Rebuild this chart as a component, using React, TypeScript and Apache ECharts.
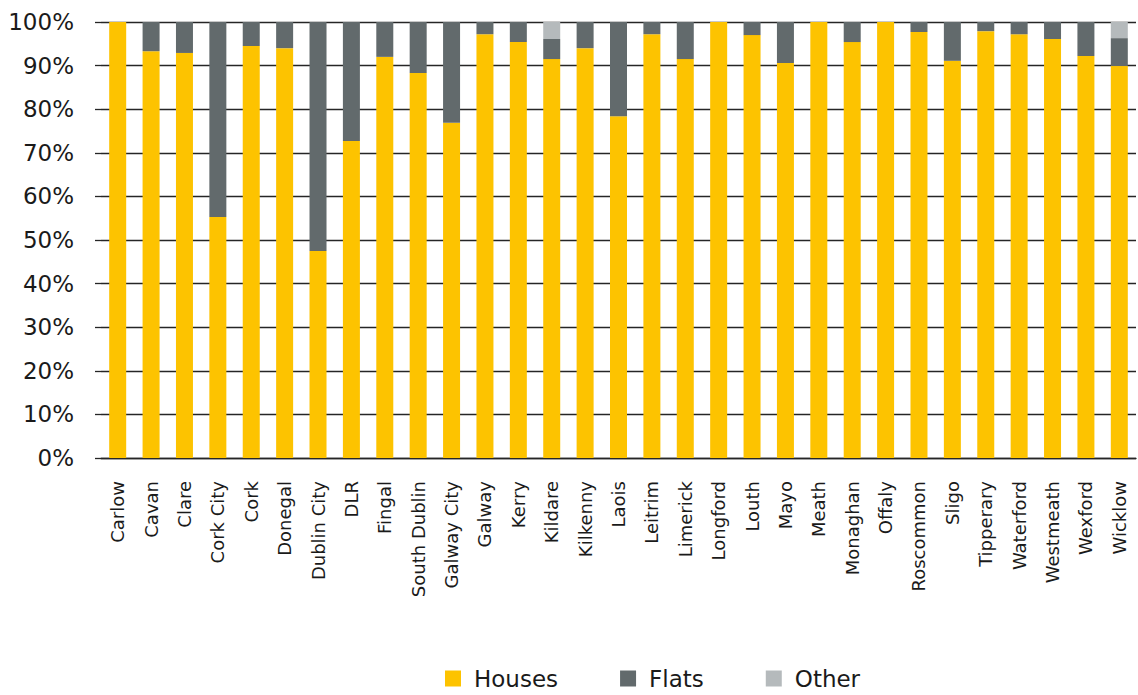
import React, { useEffect, useRef } from "react";
import * as echarts from "echarts";

const categories = [
  "Carlow", "Cavan", "Clare", "Cork City", "Cork", "Donegal", "Dublin City", "DLR", "Fingal",
  "South Dublin", "Galway City", "Galway", "Kerry", "Kildare", "Kilkenny", "Laois", "Leitrim",
  "Limerick", "Longford", "Louth", "Mayo", "Meath", "Monaghan", "Offaly", "Roscommon", "Sligo",
  "Tipperary", "Waterford", "Westmeath", "Wexford", "Wicklow",
];

const houses = [
  100, 93.3, 92.9, 55.3, 94.5, 94.0, 47.5, 72.7, 92.0,
  88.3, 76.9, 97.2, 95.4, 91.5, 94.0, 78.4, 97.2,
  91.5, 100, 97.0, 90.6, 100, 95.4, 100, 97.7, 91.1,
  97.9, 97.2, 96.1, 92.2, 89.9,
];

const flats = [
  0, 6.7, 7.1, 44.7, 5.5, 6.0, 52.5, 27.3, 8.0,
  11.7, 23.1, 2.8, 4.6, 4.6, 6.0, 21.6, 2.8,
  8.5, 0, 3.0, 9.4, 0, 4.6, 0, 2.3, 8.9,
  2.1, 2.8, 3.9, 7.8, 6.4,
];

const other = [
  0, 0, 0, 0, 0, 0, 0, 0, 0,
  0, 0, 0, 0, 3.9, 0, 0, 0,
  0, 0, 0, 0, 0, 0, 0, 0, 0,
  0, 0, 0, 0, 3.7,
];

const seriesNames = ["Houses", "Flats", "Other"];
const colors = ["#FDC300", "#626A6C", "#B5BABC"];

const FONT = "DejaVu Sans";

export default function App() {
  const ref = useRef<HTMLDivElement>(null);

  useEffect(() => {
    if (!ref.current) return;
    const chart = echarts.init(ref.current, undefined, { renderer: "svg" });
    const data = [houses, flats, other];
    chart.setOption({
      animation: false,
      textStyle: { fontFamily: FONT },
      grid: { left: 101, right: 2, top: 22, bottom: 237, containLabel: false },
      legend: {
        data: seriesNames,
        bottom: 0,
        left: 440,
        itemWidth: 16,
        itemHeight: 16,
        itemGap: 62,
        icon: "rect",
        textStyle: { fontFamily: FONT, fontSize: 23, color: "#1a1a1a", padding: [0, 0, 0, 8] },
      },
      xAxis: {
        type: "category",
        data: categories,
        axisLine: { show: true, lineStyle: { color: "#262626", width: 1.3 } },
        axisTick: { show: false },
        axisLabel: {
          rotate: 90,
          margin: 23,
          interval: 0,
          fontFamily: FONT,
          fontSize: 18,
          color: "#1a1a1a",
        },
      },
      yAxis: {
        type: "value",
        min: 0,
        max: 100,
        interval: 10,
        axisLine: { show: false },
        axisTick: { show: true, length: 6, lineStyle: { color: "#262626", width: 1.3 } },
        splitLine: { show: true, lineStyle: { color: "#262626", width: 1.3 } },
        axisLabel: {
          formatter: "{value}%",
          margin: 27,
          fontFamily: FONT,
          fontSize: 23,
          color: "#1a1a1a",
        },
      },
      series: seriesNames.map((name, i) => ({
        name,
        type: "bar",
        stack: "total",
        barWidth: 17,
        itemStyle: { color: colors[i] },
        data: data[i],
      })),
    });
    return () => chart.dispose();
  }, []);

  return (
    <div
      ref={ref}
      style={{ position: "absolute", left: 0, top: 0, width: 1138, height: 695 }}
    />
  );
}
